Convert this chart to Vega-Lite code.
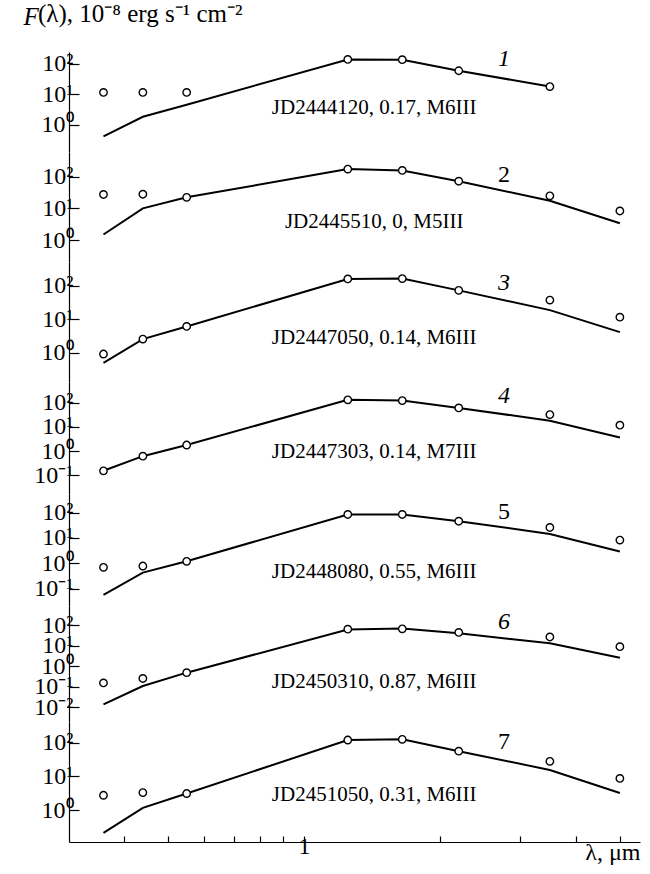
{
  "$schema": "https://vega.github.io/schema/vega-lite/v6.json",
  "padding": {"left": 23, "top": 2, "right": 8, "bottom": 5},
  "spacing": 0,
  "bounds": "flush",
  "resolve": {"scale": {"x": "independent", "y": "independent"}},
  "config": {
    "view": {"stroke": null},
    "font": "Liberation Serif",
    "axis": {
      "labelFont": "Liberation Serif",
      "titleFont": "Liberation Serif",
      "labelColor": "black",
      "titleColor": "black",
      "domainColor": "black",
      "tickColor": "black",
      "domainWidth": 1.2,
      "tickWidth": 1.2,
      "grid": false,
      "labelOverlap": false,
      "labelFlush": false,
      "labelBound": false,
      "labelFontSize": 24,
      "titleFontSize": 25,
      "titleFontWeight": "normal"
    },
    "axisY": {
      "tickSize": -10,
      "labelPadding": 6,
      "labelExpr": "datum.value >= 100 ? '10²' : datum.value >= 10 ? '10¹' : datum.value >= 1 ? '10⁰' : datum.value >= 0.1 ? '10⁻¹' : '10⁻²'"
    }
  },
  "datasets": {
    "flux": [
      {"panel": 1, "series": "observed", "wavelength": 0.36, "flux": 11.7},
      {"panel": 1, "series": "observed", "wavelength": 0.44, "flux": 11.7},
      {"panel": 1, "series": "observed", "wavelength": 0.55, "flux": 11.7},
      {"panel": 1, "series": "observed", "wavelength": 1.25, "flux": 141},
      {"panel": 1, "series": "observed", "wavelength": 1.65, "flux": 138},
      {"panel": 1, "series": "observed", "wavelength": 2.2, "flux": 60},
      {"panel": 1, "series": "observed", "wavelength": 3.5, "flux": 18.2},
      {"panel": 1, "series": "model", "wavelength": 0.36, "flux": 0.42},
      {"panel": 1, "series": "model", "wavelength": 0.44, "flux": 1.86},
      {"panel": 1, "series": "model", "wavelength": 0.55, "flux": 4.6},
      {"panel": 1, "series": "model", "wavelength": 1.25, "flux": 141},
      {"panel": 1, "series": "model", "wavelength": 1.65, "flux": 138},
      {"panel": 1, "series": "model", "wavelength": 2.2, "flux": 60},
      {"panel": 1, "series": "model", "wavelength": 3.5, "flux": 18.2},

      {"panel": 2, "series": "observed", "wavelength": 0.36, "flux": 27.5},
      {"panel": 2, "series": "observed", "wavelength": 0.44, "flux": 28},
      {"panel": 2, "series": "observed", "wavelength": 0.55, "flux": 22.4},
      {"panel": 2, "series": "observed", "wavelength": 1.25, "flux": 174},
      {"panel": 2, "series": "observed", "wavelength": 1.65, "flux": 158},
      {"panel": 2, "series": "observed", "wavelength": 2.2, "flux": 72},
      {"panel": 2, "series": "observed", "wavelength": 3.5, "flux": 25},
      {"panel": 2, "series": "observed", "wavelength": 5.0, "flux": 8.3},
      {"panel": 2, "series": "model", "wavelength": 0.36, "flux": 1.5},
      {"panel": 2, "series": "model", "wavelength": 0.44, "flux": 10},
      {"panel": 2, "series": "model", "wavelength": 0.55, "flux": 22.4},
      {"panel": 2, "series": "model", "wavelength": 1.25, "flux": 174},
      {"panel": 2, "series": "model", "wavelength": 1.65, "flux": 158},
      {"panel": 2, "series": "model", "wavelength": 2.2, "flux": 72},
      {"panel": 2, "series": "model", "wavelength": 3.5, "flux": 17.4},
      {"panel": 2, "series": "model", "wavelength": 5.0, "flux": 3.4},

      {"panel": 3, "series": "observed", "wavelength": 0.36, "flux": 0.93},
      {"panel": 3, "series": "observed", "wavelength": 0.44, "flux": 2.6},
      {"panel": 3, "series": "observed", "wavelength": 0.55, "flux": 6.2},
      {"panel": 3, "series": "observed", "wavelength": 1.25, "flux": 162},
      {"panel": 3, "series": "observed", "wavelength": 1.65, "flux": 166},
      {"panel": 3, "series": "observed", "wavelength": 2.2, "flux": 74},
      {"panel": 3, "series": "observed", "wavelength": 3.5, "flux": 38},
      {"panel": 3, "series": "observed", "wavelength": 5.0, "flux": 11.7},
      {"panel": 3, "series": "model", "wavelength": 0.36, "flux": 0.51},
      {"panel": 3, "series": "model", "wavelength": 0.44, "flux": 2.6},
      {"panel": 3, "series": "model", "wavelength": 0.55, "flux": 6.2},
      {"panel": 3, "series": "model", "wavelength": 1.25, "flux": 162},
      {"panel": 3, "series": "model", "wavelength": 1.65, "flux": 166},
      {"panel": 3, "series": "model", "wavelength": 2.2, "flux": 74},
      {"panel": 3, "series": "model", "wavelength": 3.5, "flux": 19},
      {"panel": 3, "series": "model", "wavelength": 5.0, "flux": 4.2},

      {"panel": 4, "series": "observed", "wavelength": 0.36, "flux": 0.155},
      {"panel": 4, "series": "observed", "wavelength": 0.44, "flux": 0.62},
      {"panel": 4, "series": "observed", "wavelength": 0.55, "flux": 1.78},
      {"panel": 4, "series": "observed", "wavelength": 1.25, "flux": 129},
      {"panel": 4, "series": "observed", "wavelength": 1.65, "flux": 120},
      {"panel": 4, "series": "observed", "wavelength": 2.2, "flux": 60},
      {"panel": 4, "series": "observed", "wavelength": 3.5, "flux": 32},
      {"panel": 4, "series": "observed", "wavelength": 5.0, "flux": 11.7},
      {"panel": 4, "series": "model", "wavelength": 0.36, "flux": 0.155},
      {"panel": 4, "series": "model", "wavelength": 0.44, "flux": 0.62},
      {"panel": 4, "series": "model", "wavelength": 0.55, "flux": 1.78},
      {"panel": 4, "series": "model", "wavelength": 1.25, "flux": 129},
      {"panel": 4, "series": "model", "wavelength": 1.65, "flux": 120},
      {"panel": 4, "series": "model", "wavelength": 2.2, "flux": 60},
      {"panel": 4, "series": "model", "wavelength": 3.5, "flux": 17.8},
      {"panel": 4, "series": "model", "wavelength": 5.0, "flux": 3.6},

      {"panel": 5, "series": "observed", "wavelength": 0.36, "flux": 0.69},
      {"panel": 5, "series": "observed", "wavelength": 0.44, "flux": 0.78},
      {"panel": 5, "series": "observed", "wavelength": 0.55, "flux": 1.2},
      {"panel": 5, "series": "observed", "wavelength": 1.25, "flux": 85},
      {"panel": 5, "series": "observed", "wavelength": 1.65, "flux": 85},
      {"panel": 5, "series": "observed", "wavelength": 2.2, "flux": 46},
      {"panel": 5, "series": "observed", "wavelength": 3.5, "flux": 26},
      {"panel": 5, "series": "observed", "wavelength": 5.0, "flux": 8.3},
      {"panel": 5, "series": "model", "wavelength": 0.36, "flux": 0.056},
      {"panel": 5, "series": "model", "wavelength": 0.44, "flux": 0.43},
      {"panel": 5, "series": "model", "wavelength": 0.55, "flux": 1.2},
      {"panel": 5, "series": "model", "wavelength": 1.25, "flux": 85},
      {"panel": 5, "series": "model", "wavelength": 1.65, "flux": 85},
      {"panel": 5, "series": "model", "wavelength": 2.2, "flux": 46},
      {"panel": 5, "series": "model", "wavelength": 3.5, "flux": 14.5},
      {"panel": 5, "series": "model", "wavelength": 5.0, "flux": 2.9},

      {"panel": 6, "series": "observed", "wavelength": 0.36, "flux": 0.158},
      {"panel": 6, "series": "observed", "wavelength": 0.44, "flux": 0.26},
      {"panel": 6, "series": "observed", "wavelength": 0.55, "flux": 0.5},
      {"panel": 6, "series": "observed", "wavelength": 1.25, "flux": 66},
      {"panel": 6, "series": "observed", "wavelength": 1.65, "flux": 69},
      {"panel": 6, "series": "observed", "wavelength": 2.2, "flux": 46},
      {"panel": 6, "series": "observed", "wavelength": 3.5, "flux": 27.5},
      {"panel": 6, "series": "observed", "wavelength": 5.0, "flux": 9.3},
      {"panel": 6, "series": "model", "wavelength": 0.36, "flux": 0.0141},
      {"panel": 6, "series": "model", "wavelength": 0.44, "flux": 0.112},
      {"panel": 6, "series": "model", "wavelength": 0.55, "flux": 0.5},
      {"panel": 6, "series": "model", "wavelength": 1.25, "flux": 63},
      {"panel": 6, "series": "model", "wavelength": 1.65, "flux": 71},
      {"panel": 6, "series": "model", "wavelength": 2.2, "flux": 42},
      {"panel": 6, "series": "model", "wavelength": 3.5, "flux": 13.5},
      {"panel": 6, "series": "model", "wavelength": 5.0, "flux": 2.7},

      {"panel": 7, "series": "observed", "wavelength": 0.36, "flux": 2.75},
      {"panel": 7, "series": "observed", "wavelength": 0.44, "flux": 3.3},
      {"panel": 7, "series": "observed", "wavelength": 0.55, "flux": 3.1},
      {"panel": 7, "series": "observed", "wavelength": 1.25, "flux": 120},
      {"panel": 7, "series": "observed", "wavelength": 1.65, "flux": 126},
      {"panel": 7, "series": "observed", "wavelength": 2.2, "flux": 56},
      {"panel": 7, "series": "observed", "wavelength": 3.5, "flux": 28},
      {"panel": 7, "series": "observed", "wavelength": 5.0, "flux": 8.7},
      {"panel": 7, "series": "model", "wavelength": 0.36, "flux": 0.21},
      {"panel": 7, "series": "model", "wavelength": 0.44, "flux": 1.17},
      {"panel": 7, "series": "model", "wavelength": 0.55, "flux": 3.1},
      {"panel": 7, "series": "model", "wavelength": 1.25, "flux": 120},
      {"panel": 7, "series": "model", "wavelength": 1.65, "flux": 126},
      {"panel": 7, "series": "model", "wavelength": 2.2, "flux": 56},
      {"panel": 7, "series": "model", "wavelength": 3.5, "flux": 15.5},
      {"panel": 7, "series": "model", "wavelength": 5.0, "flux": 3.2}
    ],
    "notes": [
      {"panel": 1, "kind": "caption", "wavelength": 1.43, "flux": 3.55, "label": "JD2444120, 0.17, M6III"},
      {"panel": 2, "kind": "caption", "wavelength": 1.43, "flux": 3.6, "label": "JD2445510, 0, M5III"},
      {"panel": 3, "kind": "caption", "wavelength": 1.43, "flux": 2.75, "label": "JD2447050, 0.14, M6III"},
      {"panel": 4, "kind": "caption", "wavelength": 1.43, "flux": 0.89, "label": "JD2447303, 0.14, M7III"},
      {"panel": 5, "kind": "caption", "wavelength": 1.43, "flux": 0.44, "label": "JD2448080, 0.55, M6III"},
      {"panel": 6, "kind": "caption", "wavelength": 1.43, "flux": 0.178, "label": "JD2450310, 0.87, M6III"},
      {"panel": 7, "kind": "caption", "wavelength": 1.43, "flux": 2.8, "label": "JD2451050, 0.31, M6III"},
      {"panel": 1, "kind": "number", "wavelength": 2.77, "flux": 145, "label": "1"},
      {"panel": 2, "kind": "number", "wavelength": 2.77, "flux": 112, "label": "2"},
      {"panel": 3, "kind": "number", "wavelength": 2.77, "flux": 126, "label": "3"},
      {"panel": 4, "kind": "number", "wavelength": 2.77, "flux": 186, "label": "4"},
      {"panel": 5, "kind": "number", "wavelength": 2.77, "flux": 107, "label": "5"},
      {"panel": 6, "kind": "number", "wavelength": 2.77, "flux": 151, "label": "6"},
      {"panel": 7, "kind": "number", "wavelength": 2.77, "flux": 102, "label": "7"}
    ]
  },
  "vconcat": [
    {
      "width": 571, "height": 100,
      "title": {"text": "(λ), 10⁻⁸ erg s⁻¹ cm⁻²", "anchor": "start", "frame": "group", "dx": -31, "dy": 43, "offset": 0, "baseline": "alphabetic", "font": "Liberation Serif", "fontSize": 25, "fontWeight": "normal", "color": "black"},
      "encoding": {
        "x": {"field": "wavelength", "type": "quantitative", "scale": {"type": "log", "domain": [0.302, 5.54], "nice": false}, "axis": null},
        "y": {"field": "flux", "type": "quantitative", "scale": {"type": "log", "domain": [0.13, 247], "nice": false},
              "axis": {"values": [1, 10, 100], "encode": {"ticks": {"update": {"x2": {"value": 10}}}}, "title": "F", "titleFontStyle": "italic", "titleAngle": 0, "titleAlign": "left", "titleBaseline": "alphabetic", "titleX": -46, "titleY": -28}}
      },
      "layer": [
        {"data": {"name": "flux"}, "transform": [{"filter": "datum.panel === 1 && datum.series === 'model'"}], "mark": {"type": "line", "color": "black", "strokeWidth": 2}},
        {"data": {"name": "flux"}, "transform": [{"filter": "datum.panel === 1 && datum.series === 'observed'"}], "mark": {"type": "point", "shape": "circle", "filled": true, "fill": "white", "stroke": "black", "strokeWidth": 1.4, "size": 55, "opacity": 1}},
        {"data": {"name": "notes"}, "transform": [{"filter": "datum.panel === 1 && datum.kind === 'caption'"}], "mark": {"type": "text", "fontSize": 21, "color": "black", "align": "center", "baseline": "middle"}, "encoding": {"text": {"field": "label"}}},
        {"data": {"name": "notes"}, "transform": [{"filter": "datum.panel === 1 && datum.kind === 'number'"}], "mark": {"type": "text", "fontSize": 24, "fontStyle": "italic", "color": "black", "align": "center", "baseline": "middle"}, "encoding": {"text": {"field": "label"}}}
      ]
    },
    {
      "width": 571, "height": 110,
      "encoding": {
        "x": {"field": "wavelength", "type": "quantitative", "scale": {"type": "log", "domain": [0.302, 5.54], "nice": false}, "axis": null},
        "y": {"field": "flux", "type": "quantitative", "scale": {"type": "log", "domain": [0.204, 601], "nice": false}, "axis": {"values": [1, 10, 100], "encode": {"ticks": {"update": {"x2": {"value": 10}}}}, "title": null}}
      },
      "layer": [
        {"data": {"name": "flux"}, "transform": [{"filter": "datum.panel === 2 && datum.series === 'model'"}], "mark": {"type": "line", "color": "black", "strokeWidth": 2}},
        {"data": {"name": "flux"}, "transform": [{"filter": "datum.panel === 2 && datum.series === 'observed'"}], "mark": {"type": "point", "shape": "circle", "filled": true, "fill": "white", "stroke": "black", "strokeWidth": 1.4, "size": 55, "opacity": 1}},
        {"data": {"name": "notes"}, "transform": [{"filter": "datum.panel === 2 && datum.kind === 'caption'"}], "mark": {"type": "text", "fontSize": 21, "color": "black", "align": "center", "baseline": "middle"}, "encoding": {"text": {"field": "label"}}},
        {"data": {"name": "notes"}, "transform": [{"filter": "datum.panel === 2 && datum.kind === 'number'"}], "mark": {"type": "text", "fontSize": 24, "fontStyle": "normal", "color": "black", "align": "center", "baseline": "middle"}, "encoding": {"text": {"field": "label"}}}
      ]
    },
    {
      "width": 571, "height": 120,
      "encoding": {
        "x": {"field": "wavelength", "type": "quantitative", "scale": {"type": "log", "domain": [0.302, 5.54], "nice": false}, "axis": null},
        "y": {"field": "flux", "type": "quantitative", "scale": {"type": "log", "domain": [0.136, 520], "nice": false}, "axis": {"values": [1, 10, 100], "encode": {"ticks": {"update": {"x2": {"value": 10}}}}, "title": null}}
      },
      "layer": [
        {"data": {"name": "flux"}, "transform": [{"filter": "datum.panel === 3 && datum.series === 'model'"}], "mark": {"type": "line", "color": "black", "strokeWidth": 2}},
        {"data": {"name": "flux"}, "transform": [{"filter": "datum.panel === 3 && datum.series === 'observed'"}], "mark": {"type": "point", "shape": "circle", "filled": true, "fill": "white", "stroke": "black", "strokeWidth": 1.4, "size": 55, "opacity": 1}},
        {"data": {"name": "notes"}, "transform": [{"filter": "datum.panel === 3 && datum.kind === 'caption'"}], "mark": {"type": "text", "fontSize": 21, "color": "black", "align": "center", "baseline": "middle"}, "encoding": {"text": {"field": "label"}}},
        {"data": {"name": "notes"}, "transform": [{"filter": "datum.panel === 3 && datum.kind === 'number'"}], "mark": {"type": "text", "fontSize": 24, "fontStyle": "italic", "color": "black", "align": "center", "baseline": "middle"}, "encoding": {"text": {"field": "label"}}}
      ]
    },
    {
      "width": 571, "height": 112,
      "encoding": {
        "x": {"field": "wavelength", "type": "quantitative", "scale": {"type": "log", "domain": [0.302, 5.54], "nice": false}, "axis": null},
        "y": {"field": "flux", "type": "quantitative", "scale": {"type": "log", "domain": [0.0172, 698], "nice": false}, "axis": {"values": [0.1, 1, 10, 100], "encode": {"ticks": {"update": {"x2": {"value": 10}}}}, "title": null}}
      },
      "layer": [
        {"data": {"name": "flux"}, "transform": [{"filter": "datum.panel === 4 && datum.series === 'model'"}], "mark": {"type": "line", "color": "black", "strokeWidth": 2}},
        {"data": {"name": "flux"}, "transform": [{"filter": "datum.panel === 4 && datum.series === 'observed'"}], "mark": {"type": "point", "shape": "circle", "filled": true, "fill": "white", "stroke": "black", "strokeWidth": 1.4, "size": 55, "opacity": 1}},
        {"data": {"name": "notes"}, "transform": [{"filter": "datum.panel === 4 && datum.kind === 'caption'"}], "mark": {"type": "text", "fontSize": 21, "color": "black", "align": "center", "baseline": "middle"}, "encoding": {"text": {"field": "label"}}},
        {"data": {"name": "notes"}, "transform": [{"filter": "datum.panel === 4 && datum.kind === 'number'"}], "mark": {"type": "text", "fontSize": 24, "fontStyle": "italic", "color": "black", "align": "center", "baseline": "middle"}, "encoding": {"text": {"field": "label"}}}
      ]
    },
    {
      "width": 571, "height": 112,
      "encoding": {
        "x": {"field": "wavelength", "type": "quantitative", "scale": {"type": "log", "domain": [0.302, 5.54], "nice": false}, "axis": null},
        "y": {"field": "flux", "type": "quantitative", "scale": {"type": "log", "domain": [0.0205, 548], "nice": false}, "axis": {"values": [0.1, 1, 10, 100], "encode": {"ticks": {"update": {"x2": {"value": 10}}}}, "title": null}}
      },
      "layer": [
        {"data": {"name": "flux"}, "transform": [{"filter": "datum.panel === 5 && datum.series === 'model'"}], "mark": {"type": "line", "color": "black", "strokeWidth": 2}},
        {"data": {"name": "flux"}, "transform": [{"filter": "datum.panel === 5 && datum.series === 'observed'"}], "mark": {"type": "point", "shape": "circle", "filled": true, "fill": "white", "stroke": "black", "strokeWidth": 1.4, "size": 55, "opacity": 1}},
        {"data": {"name": "notes"}, "transform": [{"filter": "datum.panel === 5 && datum.kind === 'caption'"}], "mark": {"type": "text", "fontSize": 21, "color": "black", "align": "center", "baseline": "middle"}, "encoding": {"text": {"field": "label"}}},
        {"data": {"name": "notes"}, "transform": [{"filter": "datum.panel === 5 && datum.kind === 'number'"}], "mark": {"type": "text", "fontSize": 24, "fontStyle": "normal", "color": "black", "align": "center", "baseline": "middle"}, "encoding": {"text": {"field": "label"}}}
      ]
    },
    {
      "width": 571, "height": 116,
      "encoding": {
        "x": {"field": "wavelength", "type": "quantitative", "scale": {"type": "log", "domain": [0.302, 5.54], "nice": false}, "axis": null},
        "y": {"field": "flux", "type": "quantitative", "scale": {"type": "log", "domain": [0.00196, 893], "nice": false}, "axis": {"values": [0.01, 0.1, 1, 10, 100], "encode": {"ticks": {"update": {"x2": {"value": 10}}}}, "title": null}}
      },
      "layer": [
        {"data": {"name": "flux"}, "transform": [{"filter": "datum.panel === 6 && datum.series === 'model'"}], "mark": {"type": "line", "color": "black", "strokeWidth": 2}},
        {"data": {"name": "flux"}, "transform": [{"filter": "datum.panel === 6 && datum.series === 'observed'"}], "mark": {"type": "point", "shape": "circle", "filled": true, "fill": "white", "stroke": "black", "strokeWidth": 1.4, "size": 55, "opacity": 1}},
        {"data": {"name": "notes"}, "transform": [{"filter": "datum.panel === 6 && datum.kind === 'caption'"}], "mark": {"type": "text", "fontSize": 21, "color": "black", "align": "center", "baseline": "middle"}, "encoding": {"text": {"field": "label"}}},
        {"data": {"name": "notes"}, "transform": [{"filter": "datum.panel === 6 && datum.kind === 'number'"}], "mark": {"type": "text", "fontSize": 24, "fontStyle": "italic", "color": "black", "align": "center", "baseline": "middle"}, "encoding": {"text": {"field": "label"}}}
      ]
    },
    {
      "width": 571, "height": 120,
      "encoding": {
        "x": {"field": "wavelength", "type": "quantitative", "scale": {"type": "log", "domain": [0.302, 5.54], "nice": false},
              "axis": {"values": [0.4, 0.5, 0.6, 0.7, 0.8, 0.9, 1, 2, 3, 4, 5], "labelExpr": "datum.value === 1 ? '1' : ''", "tickSize": -6, "labelPadding": 17, "labelBaseline": "alphabetic",
                       "encode": {"ticks": {"update": {"y2": {"signal": "datum.value === 1 ? -10 : -6"}}}},
                       "title": "λ, μm", "titleAnchor": "end", "titleAlign": "right", "titleBaseline": "alphabetic", "titleX": 571, "titleY": 17, "titleFontSize": 24}},
        "y": {"field": "flux", "type": "quantitative", "scale": {"type": "log", "domain": [0.113, 411], "nice": false}, "axis": {"values": [1, 10, 100], "encode": {"ticks": {"update": {"x2": {"value": 10}}}}, "title": null}}
      },
      "layer": [
        {"data": {"name": "flux"}, "transform": [{"filter": "datum.panel === 7 && datum.series === 'model'"}], "mark": {"type": "line", "color": "black", "strokeWidth": 2}},
        {"data": {"name": "flux"}, "transform": [{"filter": "datum.panel === 7 && datum.series === 'observed'"}], "mark": {"type": "point", "shape": "circle", "filled": true, "fill": "white", "stroke": "black", "strokeWidth": 1.4, "size": 55, "opacity": 1}},
        {"data": {"name": "notes"}, "transform": [{"filter": "datum.panel === 7 && datum.kind === 'caption'"}], "mark": {"type": "text", "fontSize": 21, "color": "black", "align": "center", "baseline": "middle"}, "encoding": {"text": {"field": "label"}}},
        {"data": {"name": "notes"}, "transform": [{"filter": "datum.panel === 7 && datum.kind === 'number'"}], "mark": {"type": "text", "fontSize": 24, "fontStyle": "normal", "color": "black", "align": "center", "baseline": "middle"}, "encoding": {"text": {"field": "label"}}}
      ]
    }
  ]
}
